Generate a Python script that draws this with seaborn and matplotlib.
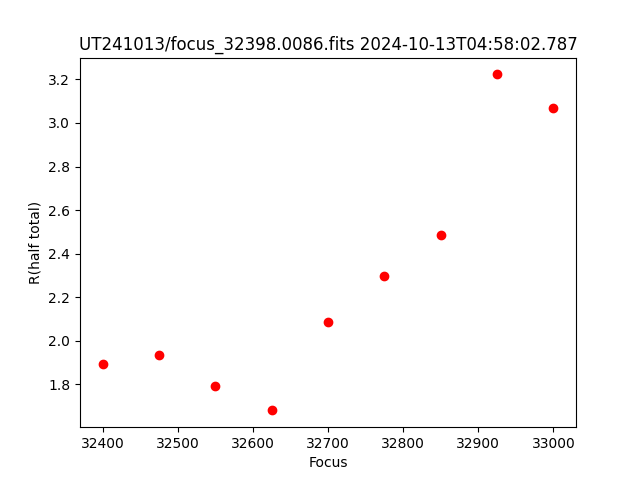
import matplotlib
matplotlib.use("Agg")
import matplotlib.pyplot as plt
import seaborn as sns
import pandas as pd

focus = [32400, 32475, 32550, 32625, 32700, 32775, 32850, 32925, 33000]
r_half = [1.896, 1.934, 1.795, 1.681, 2.085, 2.300, 2.488, 3.223, 3.070]

df = pd.DataFrame({"Focus": focus, "R": r_half})

fig, ax = plt.subplots(figsize=(6.4, 4.8), dpi=100)
sns.scatterplot(data=df, x="Focus", y="R", color="red", s=36,
                edgecolor="red", linewidth=1, ax=ax)
ax.set_xlabel("Focus")
ax.set_ylabel("R(half total)")
ax.set_title("UT241013/focus_32398.0086.fits 2024-10-13T04:58:02.787")
fig.savefig("out.png", dpi=100)
